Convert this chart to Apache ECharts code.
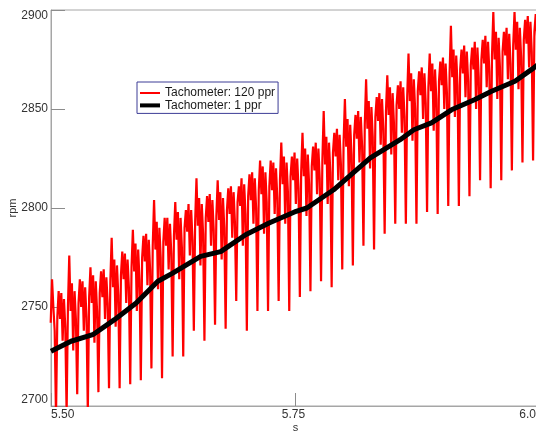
<!DOCTYPE html>
<html>
<head>
<meta charset="utf-8">
<script src="https://cdn.jsdelivr.net/npm/echarts@6/dist/echarts.min.js"></script>
<style>
html,body{margin:0;padding:0;background:#fff;}
#c{width:536px;height:432px;}
</style>
</head>
<body>
<div id="c"></div>
<script>
// ---- data ----
const seriesNames = ['Tachometer: 120 ppr', 'Tachometer: 1 ppr'];
const xTickLabels = ['5.50', '5.75', '6.0'];
const yTickLabels = ['2700', '2750', '2800', '2850', '2900'];

// 120 ppr: evenly sampled signal, start time and sample step (s)
const red_t0 = 5.4997;
const red_dt = 0.001355;
const redValues = [
  2742, 2764, 2750, 2738,
  2695, 2745, 2758, 2744, 2757, 2733, 2754, 2740,
  2696, 2750, 2776, 2748, 2762, 2728, 2758, 2744,
  2706, 2752, 2764, 2750, 2763, 2738, 2760, 2745,
  2697, 2755, 2770, 2752, 2766, 2732, 2763, 2748,
  2707, 2757, 2768, 2755, 2769, 2744, 2765, 2752,
  2709, 2763, 2785, 2760, 2774, 2740, 2771, 2756,
  2709, 2766, 2778, 2764, 2777, 2752, 2774, 2760,
  2711, 2770, 2789, 2768, 2782, 2748, 2779, 2764,
  2713, 2775, 2786, 2773, 2787, 2761, 2784, 2769,
  2719, 2781, 2804, 2779, 2793, 2759, 2790, 2775,
  2714, 2783, 2795, 2781, 2795, 2769, 2792, 2777,
  2725, 2786, 2803, 2784, 2798, 2764, 2795, 2780,
  2725, 2790, 2799, 2788, 2802, 2776, 2799, 2784,
  2738, 2793, 2815, 2791, 2805, 2771, 2802, 2787,
  2733, 2795, 2806, 2793, 2807, 2781, 2804, 2789,
  2741, 2796, 2814, 2794, 2808, 2774, 2805, 2790,
  2739, 2799, 2810, 2797, 2811, 2785, 2808, 2793,
  2753, 2803, 2811, 2801, 2815, 2781, 2812, 2797,
  2738, 2806, 2817, 2804, 2818, 2792, 2815, 2800,
  2748, 2809, 2824, 2807, 2821, 2787, 2818, 2803,
  2748, 2811, 2824, 2809, 2823, 2797, 2820, 2805,
  2753, 2814, 2833, 2812, 2826, 2792, 2823, 2808,
  2748, 2816, 2826, 2814, 2828, 2802, 2825, 2810,
  2755, 2818, 2838, 2816, 2830, 2796, 2827, 2812,
  2758, 2821, 2831, 2819, 2833, 2807, 2830, 2815,
  2763, 2824, 2849, 2822, 2836, 2802, 2833, 2818,
  2760, 2828, 2838, 2826, 2840, 2814, 2837, 2822,
  2769, 2833, 2855, 2831, 2845, 2811, 2842, 2827,
  2771, 2837, 2847, 2835, 2849, 2823, 2846, 2831,
  2781, 2842, 2865, 2840, 2854, 2820, 2851, 2836,
  2779, 2846, 2856, 2844, 2858, 2832, 2855, 2840,
  2787, 2849, 2867, 2847, 2861, 2827, 2858, 2843,
  2792, 2852, 2862, 2850, 2864, 2838, 2861, 2846,
  2792, 2856, 2878, 2854, 2868, 2834, 2865, 2850,
  2792, 2859, 2869, 2857, 2871, 2845, 2868, 2853,
  2798, 2861, 2878, 2859, 2873, 2839, 2870, 2855,
  2797, 2864, 2874, 2862, 2876, 2850, 2873, 2858,
  2801, 2868, 2892, 2866, 2880, 2846, 2877, 2862,
  2801, 2870, 2880, 2868, 2882, 2856, 2879, 2864,
  2806, 2872, 2881, 2870, 2884, 2850, 2881, 2866,
  2814, 2875, 2885, 2873, 2887, 2861, 2884, 2869,
  2810, 2877, 2899, 2875, 2889, 2855, 2886, 2871,
  2814, 2879, 2889, 2877, 2891, 2865, 2888, 2873,
  2819, 2882, 2899, 2880, 2894, 2860, 2891, 2876,
  2823, 2885, 2895, 2883, 2897, 2871, 2894, 2879,
  2824, 2889, 2898, 2887, 2901, 2867, 2898, 2883
];

// 1 ppr: one reading per revolution
const blackTimes = [5.5, 5.5205, 5.5427, 5.5649, 5.5871, 5.6093, 5.6240, 5.653, 5.6735, 5.699, 5.723, 5.749, 5.7616, 5.789, 5.8265, 5.857, 5.871, 5.889, 5.9095, 5.933, 5.9505, 5.9744, 5.9915, 6.002];
const blackValues = [2727.6, 2732.7, 2736, 2743.6, 2752, 2763, 2767, 2775.6, 2778, 2786.5, 2792.4, 2798, 2800, 2809.2, 2825.3, 2834.5, 2839.5, 2843, 2849.6, 2854.7, 2859, 2864, 2870, 2874];

// ---- build ----
const redData = redValues.map((v, i) => [red_t0 + i * red_dt, v]);
const blackData = blackTimes.map((t, i) => [t, blackValues[i]]);

const chart = echarts.init(document.getElementById('c'), null, {renderer: 'canvas'});
const font = 'Arial, "Liberation Sans", sans-serif';
chart.setOption({
  animation: false,
  backgroundColor: '#ffffff',
  grid: {
    left: 51, top: 10, right: -4, bottom: 26,
    outerBoundsMode: 'none',
    show: true, borderColor: '#a6a6a6', borderWidth: 1, backgroundColor: 'transparent',
    containLabel: false
  },
  legend: {
    orient: 'vertical',
    left: 137, top: 82,
    padding: [5, 3, 2, 3],
    itemGap: 0.4,
    itemWidth: 20,
    itemHeight: 12,
    symbolKeepAspect: true,
    backgroundColor: '#ffffff',
    borderColor: '#3c3c96',
    borderWidth: 1,
    borderRadius: 0,
    textStyle: {fontFamily: font, fontSize: 12, color: '#1a1a1a'},
    data: [
      {name: seriesNames[0], icon: 'path://M0,0 L20,0 L20,2 L0,2 Z', itemStyle: {color: '#ff0000'}},
      {name: seriesNames[1], icon: 'path://M0,0 L20,0 L20,4 L0,4 Z', itemStyle: {color: '#000000'}}
    ]
  },
  xAxis: {
    type: 'value',
    min: 5.5, max: 6.0, interval: 0.25,
    name: 's', nameLocation: 'middle', nameGap: 16, nameMoveOverlap: false,
    nameTextStyle: {fontFamily: font, fontSize: 11, color: '#333'},
    axisLine: {show: true, lineStyle: {color: '#a6a6a6', width: 1}},
    axisTick: {show: true, inside: true, length: 13, lineStyle: {color: '#8c8c8c'}},
    splitLine: {show: false},
    axisLabel: {
      fontFamily: font, fontSize: 12, color: '#333', margin: 3,
      alignMinLabel: 'left', alignMaxLabel: 'right',
      padding: [0, 4, 0, 0],
      formatter: function (v, i) { return xTickLabels[i]; }
    }
  },
  yAxis: {
    type: 'value',
    min: 2700, max: 2900, interval: 50,
    name: 'rpm', nameLocation: 'middle', nameGap: 33, nameRotate: 90, nameMoveOverlap: false,
    nameTextStyle: {fontFamily: font, fontSize: 11, color: '#333'},
    axisLine: {show: true, lineStyle: {color: '#a6a6a6', width: 1}},
    axisTick: {show: true, inside: true, length: 14, lineStyle: {color: '#8c8c8c'}},
    splitLine: {show: false},
    axisLabel: {
      fontFamily: font, fontSize: 12, color: '#333', margin: 3,
      verticalAlignMinLabel: 'bottom', verticalAlignMaxLabel: 'top',
      formatter: function (v, i) { return yTickLabels[i]; }
    }
  },
  series: [
    {
      name: seriesNames[0], type: 'line', data: redData,
      showSymbol: false, symbol: 'none',
      lineStyle: {color: '#ff0000', width: 2.2}, itemStyle: {color: '#ff0000'},
      clip: true, z: 2
    },
    {
      name: seriesNames[1], type: 'line', data: blackData,
      showSymbol: false, symbol: 'none',
      lineStyle: {color: '#000000', width: 5}, itemStyle: {color: '#000000'},
      clip: true, z: 3
    }
  ]
});
</script>
</body>
</html>
